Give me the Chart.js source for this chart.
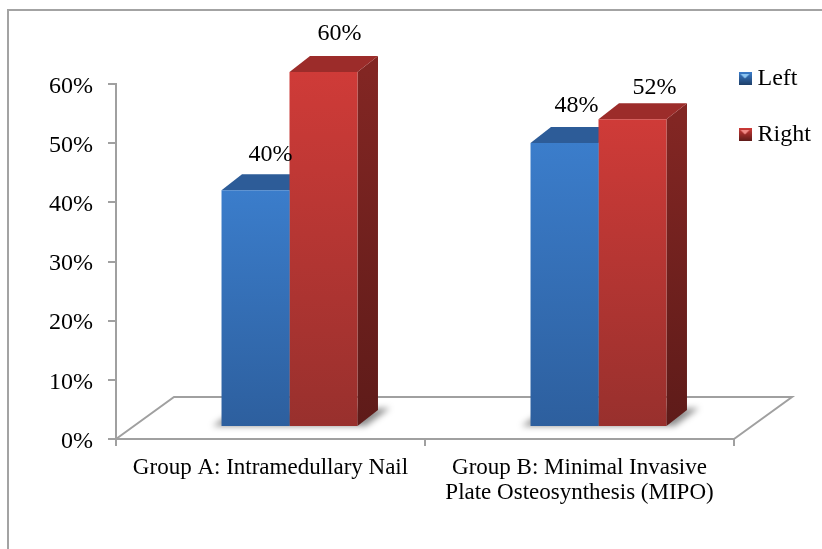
<!DOCTYPE html>
<html>
<head>
<meta charset="utf-8">
<title>Left and right by group</title>
<script src="https://cdn.jsdelivr.net/npm/chart.js@4/dist/chart.umd.min.js"></script>
<style>
  html, body { margin: 0; background: #fff; overflow: hidden; }
  #wrap { position: relative; width: 822px; height: 549px; }
  #frame { position: absolute; left: 7px; top: 9px; right: 0; bottom: 0; border-left: 2px solid #a3a3a3; border-top: 2px solid #a3a3a3; }
  canvas { position: absolute; left: 0; top: 0; }
</style>
</head>
<body>
<div id="wrap">
  <div id="frame"></div>
  <canvas id="chart" width="822" height="549"></canvas>
</div>
<script>
// Chart data
const categories = [
  "Group A: Intramedullary Nail",
  ["Group B: Minimal Invasive", "Plate Osteosynthesis (MIPO)"]
];
const seriesNames = ["Left", "Right"];
const leftValues = [40, 48];
const rightValues = [60, 52];
const tickValues = [0, 10, 20, 30, 40, 50, 60];

const FONT = '"Liberation Serif", "Times New Roman", serif';
const AXIS_COLOR = "#a0a0a0";

// 3D look of the bars
const barShift = { x: 19, y: -12 };
const depth = { x: 20.5, y: -16 };
const floorDepth = { x: 58, y: -42 };
const palette = [
  { top: "#3b7dcb", bottom: "#2d5f9e", cap: "#2d5c98", sideTop: "#264d80", sideBottom: "#1e3f69" },
  { top: "#cf3b38", bottom: "#98302d", cap: "#9c2c2a", sideTop: "#822623", sideBottom: "#5e1b19" }
];
// label nudges from the centre of each bar: [series][category]
const labelNudge = [
  [[15, -36], [12, -37]],
  [[16, -38], [22, -32]]
];

function barGradient(seriesIndex) {
  return function (c) {
    const chart = c.chart;
    if (!chart.chartArea || c.parsed === undefined || c.parsed.y === undefined) return palette[seriesIndex].top;
    const y = chart.scales.y;
    const g = chart.ctx.createLinearGradient(0, y.getPixelForValue(c.parsed.y), 0, y.getPixelForValue(0));
    g.addColorStop(0, palette[seriesIndex].top);
    g.addColorStop(1, palette[seriesIndex].bottom);
    return g;
  };
}

function legendSwatch(seriesIndex) {
  const box = document.createElement("canvas");
  box.width = 13;
  box.height = 13;
  const c = box.getContext("2d");
  const g = c.createLinearGradient(0, 0, 0, 13);
  g.addColorStop(0, palette[seriesIndex].top);
  g.addColorStop(1, palette[seriesIndex].sideBottom);
  c.fillStyle = g;
  c.fillRect(0, 0, 13, 13);
  c.fillStyle = seriesIndex === 0 ? "#8cc4f0" : "#f08a86";
  c.beginPath();
  c.moveTo(2, 2);
  c.lineTo(11, 2);
  c.lineTo(6.5, 6.5);
  c.closePath();
  c.fill();
  return box;
}

function polygon(ctx, points, fill) {
  ctx.beginPath();
  points.forEach((p, i) => (i ? ctx.lineTo(p[0], p[1]) : ctx.moveTo(p[0], p[1])));
  ctx.closePath();
  ctx.fillStyle = fill;
  ctx.fill();
}

const bars3d = {
  id: "bars3d",
  afterLayout(chart) {
    // move the legend out of the plot, to the top right
    const legend = chart.legend;
    const w = legend.width, h = legend.height;
    legend.left = 712.5;
    legend.top = 34.5;
    legend.right = legend.left + w;
    legend.bottom = legend.top + h;
  },
  beforeDatasetsDraw(chart) {
    const ctx = chart.ctx;
    const area = chart.chartArea;

    // floor
    ctx.save();
    ctx.strokeStyle = AXIS_COLOR;
    ctx.lineWidth = 2;
    ctx.beginPath();
    ctx.moveTo(area.left, area.bottom);
    ctx.lineTo(area.left + floorDepth.x, area.bottom + floorDepth.y);
    ctx.lineTo(area.right + floorDepth.x, area.bottom + floorDepth.y);
    ctx.lineTo(area.right, area.bottom);
    ctx.stroke();
    ctx.restore();

    ctx.save();
    ctx.translate(barShift.x, barShift.y);

    // shadow on the floor
    const leftBars = chart.getDatasetMeta(0).data;
    const rightBars = chart.getDatasetMeta(1).data;
    leftBars.forEach((bar, i) => {
      const x0 = bar.x - bar.width / 2;
      const x1 = rightBars[i].x + rightBars[i].width / 2;
      ctx.save();
      ctx.filter = "blur(3px)";
      polygon(ctx, [
        [x0 - 9, bar.base],
        [x0 + 6, bar.base - 10],
        [x1 + depth.x + 12, bar.base + depth.y - 2],
        [x1 + 8, bar.base]
      ], "rgba(0,0,0,0.45)");
      ctx.restore();
    });

    // top and side faces, left series first so right covers it
    [0, 1].forEach((s) => {
      chart.getDatasetMeta(s).data.forEach((bar) => {
        const x0 = bar.x - bar.width / 2;
        const x1 = bar.x + bar.width / 2;
        const side = ctx.createLinearGradient(0, bar.y, 0, bar.base);
        side.addColorStop(0, palette[s].sideTop);
        side.addColorStop(1, palette[s].sideBottom);
        polygon(ctx, [
          [x1, bar.y],
          [x1 + depth.x, bar.y + depth.y],
          [x1 + depth.x, bar.base + depth.y],
          [x1, bar.base]
        ], side);
        polygon(ctx, [
          [x0, bar.y],
          [x0 + depth.x, bar.y + depth.y],
          [x1 + depth.x, bar.y + depth.y],
          [x1, bar.y]
        ], palette[s].cap);
      });
    });
  },
  afterDatasetsDraw(chart) {
    const ctx = chart.ctx;
    ctx.restore(); // matches the translate above

    // value labels
    ctx.save();
    ctx.font = "24px " + FONT;
    ctx.fillStyle = "#000";
    ctx.textAlign = "center";
    ctx.textBaseline = "middle";
    chart.data.datasets.forEach((ds, s) => {
      chart.getDatasetMeta(s).data.forEach((bar, i) => {
        const nudge = labelNudge[s][i];
        ctx.fillText(ds.data[i] + "%", bar.x + barShift.x + nudge[0], bar.y + barShift.y + nudge[1]);
      });
    });
    ctx.restore();
  }
};

new Chart(document.getElementById("chart"), {
  type: "bar",
  data: {
    labels: categories,
    datasets: [
      { label: seriesNames[0], data: leftValues, backgroundColor: barGradient(0), clip: false },
      { label: seriesNames[1], data: rightValues, backgroundColor: barGradient(1), clip: false }
    ]
  },
  options: {
    responsive: false,
    animation: false,
    events: [],
    layout: { padding: { top: 84, right: 88, bottom: 0, left: 0 } },
    datasets: { bar: { categoryPercentage: 0.44, barPercentage: 1 } },
    scales: {
      x: {
        afterFit(scale) { scale.height = 110; },
        grid: { drawOnChartArea: false, color: AXIS_COLOR, lineWidth: 2, tickLength: 7 },
        border: { color: AXIS_COLOR, width: 2 },
        ticks: {
          color: "#000",
          font: { family: FONT, size: 23, lineHeight: 1.08 },
          maxRotation: 0,
          autoSkip: false,
          padding: 10
        }
      },
      y: {
        min: tickValues[0],
        max: tickValues[tickValues.length - 1],
        afterFit(scale) { scale.width = 116; },
        grid: { drawOnChartArea: false, color: AXIS_COLOR, lineWidth: 2, tickLength: 8 },
        border: { color: AXIS_COLOR, width: 2 },
        ticks: {
          stepSize: 10,
          color: "#000",
          font: { family: FONT, size: 24 },
          padding: 15,
          labelOffset: 2.5,
          callback: (v) => v + "%"
        }
      }
    },
    plugins: {
      tooltip: { enabled: false },
      legend: {
        position: "chartArea",
        align: "start",
        labels: {
          color: "#000",
          font: { family: FONT, size: 24 },
          usePointStyle: true,
          pointStyleWidth: 1,
          padding: 32,
          generateLabels(chart) {
            return chart.data.datasets.map((ds, i) => ({
              text: ds.label,
              datasetIndex: i,
              fontColor: "#000",
              pointStyle: legendSwatch(i),
              lineWidth: 0
            }));
          }
        }
      }
    }
  },
  plugins: [bars3d]
});
</script>
</body>
</html>
